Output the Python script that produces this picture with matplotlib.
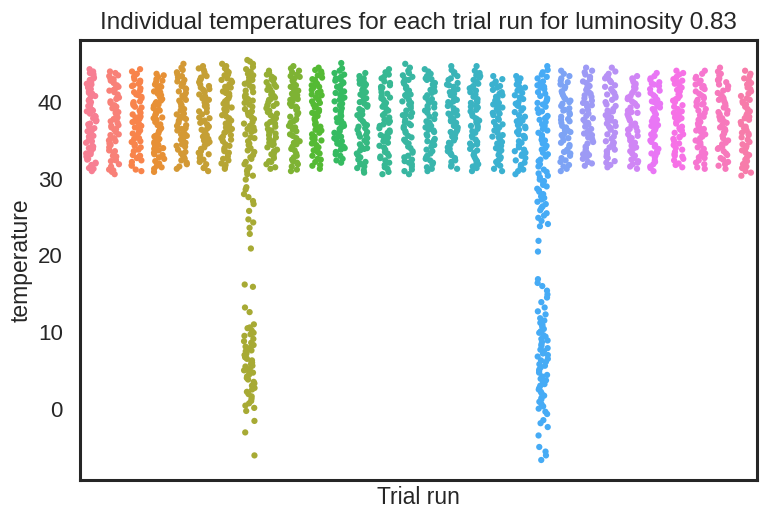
import numpy as np
import pandas as pd
import matplotlib
matplotlib.use("Agg")
import matplotlib.pyplot as plt
import seaborn as sns

# temperatures per trial run (luminosity 0.83)
trial_01 = [31.0, 31.3, 31.4, 31.8, 32.0, 32.1, 32.5, 32.6, 32.9, 33.2, 33.3, 33.5, 33.9, 34.0,
            34.2, 34.3, 34.7, 34.9, 35.0, 35.4, 35.5, 35.6, 36.0, 36.2, 36.3, 36.6, 36.8, 37.1,
            37.2, 37.5, 37.6, 37.9, 38.1, 38.2, 38.5, 38.8, 38.9, 39.0, 39.4, 39.5, 39.7, 40.0,
            40.2, 40.3, 40.7, 40.8, 41.1, 41.2, 41.4, 41.7, 41.9, 42.0, 42.3, 42.4, 42.6, 42.9,
            43.1, 43.2, 43.5, 43.7, 43.8, 44.0, 44.3]
trial_02 = [30.6, 30.9, 31.1, 31.2, 31.6, 31.9, 32.3, 32.4, 32.5, 32.9, 33.4, 33.6, 33.7, 34.1,
            34.4, 34.5, 34.6, 35.1, 35.3, 35.7, 35.8, 36.1, 36.4, 36.5, 36.9, 37.0, 37.3, 37.7,
            37.8, 38.0, 38.3, 38.6, 38.7, 39.1, 39.2, 39.6, 39.9, 40.1, 40.4, 40.5, 40.6, 41.0,
            41.3, 41.5, 41.6, 42.0, 42.2, 42.5, 42.7, 42.8, 43.1, 43.4, 43.5, 43.8, 44.0, 33.0,
            35.0, 37.5, 39.4, 41.8, 43.0, 36.7, 34.9]
trial_03 = [31.0, 31.2, 31.7, 31.8, 32.2, 32.4, 32.7, 33.0, 33.1, 33.6, 33.8, 34.1, 34.3, 34.8,
            34.9, 35.2, 35.3, 35.9, 36.0, 36.3, 36.5, 36.7, 37.2, 37.4, 37.5, 38.0, 38.1, 38.4,
            38.6, 38.9, 39.3, 39.4, 39.8, 40.0, 40.1, 40.5, 40.9, 41.0, 41.3, 41.5, 41.8, 42.1,
            42.2, 42.6, 42.8, 43.0, 43.3, 43.6, 43.7, 44.0, 44.3, 35.6, 37.8, 39.6, 40.7, 32.9,
            34.5, 36.9, 42.4, 38.2]
trial_04 = [30.9, 31.3, 31.5, 31.7, 32.0, 32.3, 32.6, 32.8, 33.1, 33.2, 33.7, 33.9, 34.0, 34.4,
            34.6, 34.8, 35.2, 35.5, 35.6, 35.9, 36.2, 36.4, 36.8, 37.0, 37.1, 37.4, 37.7, 38.0,
            38.3, 38.5, 38.7, 39.0, 39.2, 39.5, 39.7, 39.8, 40.2, 40.4, 40.7, 40.9, 41.1, 41.4,
            41.6, 41.9, 42.1, 42.3, 42.6, 42.8, 43.0, 43.3, 43.5, 43.7, 34.2, 36.6, 38.9, 41.3,
            33.4, 35.0, 37.9, 40.0, 42.0]
trial_05 = [31.3, 31.6, 31.9, 32.1, 32.4, 32.8, 33.0, 33.3, 33.5, 33.8, 34.2, 34.3, 34.7, 34.9,
            35.1, 35.4, 35.8, 35.9, 36.3, 36.5, 36.6, 37.0, 37.3, 37.6, 37.8, 38.1, 38.4, 38.5,
            38.9, 39.1, 39.4, 39.6, 39.9, 40.2, 40.3, 40.6, 40.9, 41.2, 41.4, 41.7, 41.8, 42.1,
            42.4, 42.7, 42.9, 43.2, 43.4, 43.6, 43.9, 44.2, 44.5, 45.0, 32.6, 35.6, 36.9, 39.0,
            40.8, 42.5, 34.5, 38.0]
trial_06 = [31.0, 31.4, 31.5, 31.9, 32.2, 32.5, 32.7, 33.1, 33.4, 33.6, 33.9, 34.1, 34.4, 34.6,
            35.0, 35.2, 35.5, 35.7, 36.0, 36.3, 36.4, 36.8, 37.1, 37.3, 37.6, 37.9, 38.0, 38.4,
            38.7, 38.8, 39.2, 39.5, 39.6, 40.0, 40.3, 40.5, 40.8, 41.0, 41.3, 41.6, 41.7, 42.1,
            42.3, 42.6, 42.9, 43.0, 43.4, 43.6, 43.9, 44.2, 44.4, 44.7, 34.8, 36.6, 39.9, 41.9,
            33.2, 37.5, 40.6, 43.2]
trial_07 = [31.3, 31.5, 31.8, 32.0, 32.4, 32.6, 32.9, 33.3, 33.4, 33.8, 34.0, 34.3, 34.5, 34.9,
            35.1, 35.3, 35.7, 36.0, 36.1, 36.5, 36.7, 37.0, 37.2, 37.6, 37.9, 38.1, 38.3, 38.7,
            38.9, 39.1, 39.5, 39.8, 39.9, 40.3, 40.5, 40.8, 41.1, 41.2, 41.6, 41.9, 42.0, 42.3,
            42.6, 42.8, 43.1, 43.5, 43.6, 43.9, 44.1, 44.4, 44.7, 45.0, 33.6, 35.5, 37.4, 39.3,
            41.4, 42.9, 36.3, 40.1]
trial_08 = [31.5, 31.9, 32.2, 32.6, 32.8, 33.1, 33.5, 33.7, 34.0, 34.4, 34.6, 34.9, 35.3, 35.4,
            35.8, 36.1, 36.3, 36.7, 36.9, 37.2, 37.4, 37.8, 38.0, 38.3, 38.6, 38.8, 39.1, 39.4,
            39.7, 39.9, 40.2, 40.4, 40.8, 41.0, 41.3, 41.5, 41.8, 42.0, 42.4, 42.7, 42.9, 43.2,
            43.5, 43.7, 44.0, 44.3, 44.6, 45.0, 45.3, 45.5, 36.5, 38.5, 40.6, 42.2, 31.0, 31.2]
trial_08_drop = [30.6, 30.4, 29.9, 28.9, 28.6, 28.0, 27.6, 27.1, 26.7, 25.8, 24.7, 24.3, 23.6,
                 22.8, 20.9, 16.2, 15.9, 13.2, 12.6, 11.0, 10.6, 10.5, 10.2, 9.9, 9.7, 9.5, 9.1,
                 8.8, 8.6, 8.3, 8.1, 7.9, 7.6, 7.5, 7.2, 7.0, 6.9, 6.7, 6.5, 6.3, 6.2, 6.0, 5.8,
                 5.6, 5.5, 5.2, 5.0, 4.8, 4.7, 4.4, 4.2, 4.0, 3.8, 3.5, 3.3, 3.0, 2.7, 2.5, 2.2,
                 1.9, 1.6, 1.3, 1.0, 0.7, 0.4, 0.1, -0.3, -1.6, -3.1, -6.1]
trial_09 = [31.3, 31.5, 31.9, 32.2, 32.3, 32.7, 33.0, 33.2, 33.6, 33.8, 34.1, 34.4, 34.5, 34.9,
            35.2, 35.4, 35.7, 35.9, 36.3, 36.5, 36.8, 37.1, 37.2, 37.6, 37.9, 38.1, 38.3, 38.7,
            38.9, 39.2, 39.5, 39.6, 40.0, 40.3, 40.4, 40.8, 41.0, 41.3, 41.6, 41.7, 42.1, 42.3,
            42.6, 42.8, 43.1, 43.3, 43.6, 43.8, 44.1, 34.7, 36.1, 38.5, 40.6, 42.0, 33.4, 37.4,
            39.8, 43.0]
trial_10 = [31.0, 31.2, 31.6, 31.9, 32.1, 32.5, 32.8, 33.0, 33.3, 33.7, 33.9, 34.2, 34.5, 34.7,
            35.0, 35.3, 35.6, 35.8, 36.2, 36.4, 36.7, 37.0, 37.3, 37.5, 37.8, 38.1, 38.4, 38.6,
            39.0, 39.2, 39.5, 39.8, 40.1, 40.3, 40.6, 40.9, 41.1, 41.5, 41.7, 42.0, 42.2, 42.5,
            42.8, 43.1, 43.3, 43.6, 43.9, 44.1, 44.4, 44.7, 32.3, 34.9, 36.9, 39.4, 41.3, 43.4,
            37.7, 40.4]
trial_11 = [31.3, 31.7, 31.8, 32.2, 32.5, 32.6, 33.0, 33.3, 33.5, 33.9, 34.1, 34.4, 34.6, 35.0,
            35.1, 35.5, 35.8, 36.0, 36.3, 36.6, 36.8, 37.1, 37.3, 37.7, 37.9, 38.2, 38.5, 38.6,
            39.0, 39.3, 39.5, 39.7, 40.1, 40.3, 40.6, 40.9, 41.0, 41.4, 41.6, 41.9, 42.2, 42.4,
            42.7, 42.9, 43.2, 43.5, 43.7, 44.0, 44.2, 44.5, 33.7, 36.4, 38.8, 41.2, 43.0, 35.3,
            39.9, 42.0]
trial_12 = [32.1, 32.4, 32.6, 33.0, 33.2, 33.5, 33.8, 34.0, 34.4, 34.6, 34.9, 35.1, 35.5, 35.7,
            36.0, 36.2, 36.5, 36.9, 37.0, 37.4, 37.6, 37.9, 38.2, 38.4, 38.7, 39.0, 39.2, 39.6,
            39.8, 40.1, 40.4, 40.6, 40.9, 41.2, 41.4, 41.7, 42.0, 42.2, 42.5, 42.8, 43.0, 43.3,
            43.6, 43.8, 44.1, 44.4, 45.1, 34.2, 36.7, 38.9, 41.0, 43.1, 37.2, 40.3, 35.3, 42.6]
trial_13 = [30.8, 31.1, 31.4, 31.6, 32.0, 32.2, 32.5, 32.8, 33.1, 33.3, 33.7, 33.9, 34.2, 34.5,
            34.7, 35.0, 35.3, 35.5, 35.9, 36.1, 36.4, 36.6, 37.0, 37.2, 37.5, 37.8, 38.0, 38.3,
            38.6, 38.9, 39.1, 39.4, 39.6, 40.0, 40.2, 40.5, 40.8, 41.0, 41.3, 41.6, 41.8, 42.1,
            42.4, 42.6, 42.9, 43.1, 43.4, 43.8, 31.9, 34.0, 36.8, 39.8, 42.3, 35.7, 38.4, 41.5]
trial_14 = [30.6, 30.9, 31.3, 31.5, 31.8, 32.1, 32.4, 32.7, 32.9, 33.3, 33.5, 33.8, 34.1, 34.3,
            34.7, 34.9, 35.2, 35.5, 35.7, 36.1, 36.3, 36.6, 36.9, 37.1, 37.5, 37.7, 38.0, 38.3,
            38.5, 38.9, 39.1, 39.4, 39.7, 39.9, 40.3, 40.5, 40.8, 41.1, 41.3, 41.7, 41.9, 42.2,
            42.5, 42.7, 43.1, 43.3, 43.6, 43.9, 44.3, 33.0, 35.4, 37.3, 39.6, 42.0, 36.0, 40.6]
trial_15 = [30.6, 31.0, 31.2, 31.6, 31.9, 32.1, 32.5, 32.8, 33.0, 33.4, 33.6, 34.0, 34.2, 34.6,
            34.8, 35.1, 35.4, 35.6, 36.0, 36.2, 36.6, 36.8, 37.2, 37.4, 37.7, 38.1, 38.3, 38.6,
            38.9, 39.2, 39.5, 39.7, 40.1, 40.3, 40.7, 40.9, 41.2, 41.5, 41.8, 42.0, 42.4, 42.6,
            42.9, 43.3, 43.5, 43.8, 44.1, 44.5, 45.0, 32.3, 35.0, 37.0, 39.9, 41.0, 43.0, 38.4]
trial_16 = [31.0, 31.3, 31.5, 31.9, 32.1, 32.4, 32.8, 33.0, 33.3, 33.6, 33.8, 34.2, 34.4, 34.7,
            35.0, 35.2, 35.6, 35.8, 36.1, 36.4, 36.7, 36.9, 37.3, 37.5, 37.8, 38.1, 38.4, 38.6,
            38.9, 39.3, 39.5, 39.8, 40.0, 40.4, 40.6, 40.9, 41.2, 41.4, 41.8, 42.0, 42.3, 42.5,
            42.9, 43.1, 43.4, 43.7, 44.0, 44.3, 32.6, 34.9, 37.0, 39.1, 41.6, 43.0, 36.3, 40.2]
trial_17 = [31.3, 31.6, 31.8, 32.2, 32.4, 32.7, 33.1, 33.3, 33.6, 33.9, 34.1, 34.5, 34.7, 35.0,
            35.3, 35.5, 35.9, 36.1, 36.4, 36.7, 36.9, 37.3, 37.5, 37.8, 38.1, 38.3, 38.7, 38.9,
            39.2, 39.5, 39.7, 40.1, 40.3, 40.6, 40.9, 41.1, 41.5, 41.7, 42.0, 42.3, 42.5, 42.9,
            43.1, 43.4, 43.7, 43.9, 44.2, 44.7, 33.4, 35.8, 37.6, 40.0, 42.2, 38.5, 36.2, 41.3]
trial_18 = [31.0, 31.4, 31.6, 31.9, 32.3, 32.5, 32.8, 33.1, 33.4, 33.7, 33.9, 34.3, 34.5, 34.8,
            35.1, 35.4, 35.6, 36.0, 36.2, 36.5, 36.8, 37.1, 37.4, 37.6, 37.9, 38.2, 38.5, 38.8,
            39.0, 39.3, 39.6, 39.9, 40.2, 40.4, 40.7, 41.0, 41.3, 41.5, 41.8, 42.1, 42.4, 42.7,
            42.9, 43.2, 43.5, 43.8, 44.1, 44.7, 32.0, 34.6, 36.9, 39.4, 41.9, 43.4, 37.8, 40.0]
trial_19 = [31.0, 31.3, 31.7, 31.9, 32.2, 32.6, 32.8, 33.1, 33.5, 33.7, 34.0, 34.3, 34.6, 34.8,
            35.2, 35.4, 35.7, 36.0, 36.3, 36.5, 36.9, 37.1, 37.4, 37.7, 37.9, 38.3, 38.5, 38.8,
            39.1, 39.3, 39.7, 39.9, 40.2, 40.5, 40.7, 41.1, 41.3, 41.6, 41.9, 42.1, 42.5, 42.7,
            43.0, 43.4, 32.4, 34.4, 36.7, 38.6, 40.9, 42.3, 35.5, 39.5]
trial_20 = [30.6, 31.0, 31.2, 31.5, 31.8, 32.1, 32.4, 32.7, 33.0, 33.2, 33.6, 33.8, 34.1, 34.4,
            34.7, 34.9, 35.3, 35.5, 35.8, 36.1, 36.4, 36.6, 37.0, 37.2, 37.5, 37.8, 38.1, 38.3,
            38.7, 38.9, 39.2, 39.5, 39.8, 40.0, 40.4, 40.6, 40.9, 41.2, 41.5, 41.7, 42.0, 42.3,
            42.6, 42.9, 43.1, 43.4, 33.4, 35.6, 37.6, 39.6, 41.9, 36.8]
trial_21 = [31.6, 31.9, 32.3, 32.5, 32.9, 33.2, 33.4, 33.8, 34.0, 34.3, 34.6, 34.9, 35.1, 35.5,
            35.7, 36.0, 36.3, 36.5, 36.9, 37.1, 37.4, 37.7, 38.0, 38.2, 38.6, 38.8, 39.1, 39.4,
            39.7, 39.9, 40.3, 40.5, 40.8, 41.1, 41.3, 41.7, 41.9, 42.2, 42.5, 42.7, 43.1, 43.3,
            43.6, 43.9, 44.2, 44.7, 35.0, 37.9, 40.1, 42.0]
trial_21_drop = [31.2, 30.9, 30.7, 30.4, 30.2, 29.9, 29.7, 29.5, 29.2, 29.0, 28.7, 28.5, 28.3,
                 28.0, 27.7, 27.5, 27.3, 27.0, 26.7, 26.4, 26.2, 25.9, 25.5, 25.2, 24.9, 24.5,
                 24.1, 23.8, 21.9, 20.5, 16.9, 16.4, 16.0, 15.4, 14.9, 14.5, 13.9, 13.2, 12.7,
                 12.3, 11.8, 11.5, 11.2, 10.9, 10.7, 10.4, 10.1, 9.9, 9.6, 9.4, 9.1, 8.9, 8.7,
                 8.4, 8.2, 7.9, 7.7, 7.5, 7.2, 7.0, 6.8, 6.5, 6.3, 6.1, 5.8, 5.6, 5.4, 5.1, 4.9,
                 4.7, 4.4, 4.2, 3.9, 3.7, 3.5, 3.2, 3.0, 2.7, 2.5, 2.2, 2.0, 1.7, 1.4, 1.2, 0.9,
                 0.6, 0.3, 0.0, -0.4, -0.7, -1.5, -1.9, -2.4, -3.5, -5.0, -5.6, -6.1, -6.7]
trial_22 = [31.0, 31.3, 31.6, 31.8, 32.2, 32.4, 32.7, 33.0, 33.3, 33.6, 33.8, 34.2, 34.4, 34.7,
            35.0, 35.3, 35.5, 35.9, 36.1, 36.4, 36.7, 36.9, 37.3, 37.5, 37.8, 38.1, 38.4, 38.6,
            38.9, 39.2, 39.5, 39.8, 40.0, 40.4, 40.6, 40.9, 41.2, 41.4, 41.8, 42.0, 42.3, 42.6,
            42.8, 43.1, 43.4, 43.7, 44.1, 33.5, 35.7, 37.7, 40.2, 42.4, 36.3, 39.0]
trial_23 = [31.7, 32.0, 32.2, 32.6, 32.8, 33.1, 33.4, 33.7, 34.0, 34.2, 34.6, 34.8, 35.1, 35.4,
            35.7, 35.9, 36.3, 36.5, 36.8, 37.1, 37.3, 37.7, 37.9, 38.2, 38.5, 38.8, 39.0, 39.4,
            39.6, 39.9, 40.2, 40.5, 40.7, 41.1, 41.3, 41.6, 41.9, 42.1, 42.5, 42.7, 43.0, 43.3,
            43.6, 43.9, 44.1, 44.5, 33.2, 35.3, 37.5, 39.8, 42.2, 36.1, 40.9]
trial_24 = [31.5, 31.8, 32.1, 32.3, 32.7, 32.9, 33.2, 33.5, 33.8, 34.1, 34.3, 34.7, 34.9, 35.2,
            35.5, 35.8, 36.0, 36.4, 36.6, 36.9, 37.2, 37.4, 37.8, 38.0, 38.3, 38.6, 38.9, 39.1,
            39.5, 39.7, 40.0, 40.3, 40.6, 40.8, 41.2, 41.4, 41.7, 42.0, 42.2, 42.6, 42.8, 43.1,
            43.4, 43.7, 44.0, 44.5, 34.5, 36.8, 38.8, 41.0, 43.2, 37.6, 33.6]
trial_25 = [31.3, 31.6, 31.9, 32.1, 32.5, 32.7, 33.0, 33.3, 33.6, 33.9, 34.1, 34.5, 34.7, 35.0,
            35.3, 35.6, 35.8, 36.2, 36.4, 36.7, 37.0, 37.2, 37.6, 37.8, 38.1, 38.4, 38.7, 38.9,
            39.3, 39.5, 39.8, 40.1, 40.4, 40.6, 41.0, 41.2, 41.5, 41.8, 42.0, 42.4, 42.6, 42.9,
            43.1, 43.4, 32.3, 34.3, 36.5, 38.6, 40.8, 42.2, 35.4, 39.9]
trial_26 = [31.0, 31.4, 31.6, 31.9, 32.2, 32.4, 32.8, 33.0, 33.3, 33.6, 33.9, 34.2, 34.4, 34.8,
            35.0, 35.3, 35.6, 35.8, 36.2, 36.4, 36.7, 37.0, 37.3, 37.5, 37.9, 38.1, 38.4, 38.7,
            38.9, 39.3, 39.5, 39.8, 40.1, 40.3, 40.7, 40.9, 41.2, 41.5, 41.7, 42.1, 42.3, 42.6,
            42.9, 43.1, 43.4, 43.8, 33.4, 35.7, 37.7, 40.0, 42.4, 36.9, 39.1]
trial_27 = [31.5, 31.8, 32.0, 32.4, 32.6, 32.9, 33.2, 33.5, 33.8, 34.0, 34.4, 34.6, 34.9, 35.2,
            35.4, 35.8, 36.0, 36.3, 36.6, 36.8, 37.2, 37.4, 37.7, 38.0, 38.2, 38.6, 38.8, 39.1,
            39.4, 39.6, 40.0, 40.2, 40.5, 40.8, 41.0, 41.4, 41.6, 41.9, 42.2, 42.4, 42.8, 43.0,
            43.3, 43.6, 43.8, 44.1, 33.0, 35.5, 37.9, 40.4, 42.6, 36.4, 38.4]
trial_28 = [31.3, 31.5, 31.9, 32.1, 32.4, 32.7, 33.0, 33.3, 33.5, 33.9, 34.1, 34.4, 34.7, 34.9,
            35.3, 35.5, 35.8, 36.1, 36.3, 36.7, 36.9, 37.2, 37.5, 37.7, 38.1, 38.3, 38.6, 38.9,
            39.1, 39.5, 39.7, 40.0, 40.3, 40.5, 40.9, 41.1, 41.4, 41.7, 41.9, 42.3, 42.5, 42.8,
            43.1, 43.3, 43.7, 44.1, 32.8, 35.0, 37.4, 39.8, 42.1, 36.5, 40.7]
trial_29 = [31.3, 31.7, 31.9, 32.2, 32.5, 32.7, 33.1, 33.3, 33.6, 33.9, 34.2, 34.5, 34.7, 35.0,
            35.3, 35.6, 35.9, 36.1, 36.5, 36.7, 37.0, 37.3, 37.5, 37.9, 38.1, 38.4, 38.7, 38.9,
            39.3, 39.5, 39.8, 40.1, 40.3, 40.7, 40.9, 41.2, 41.5, 41.7, 42.1, 42.3, 42.6, 42.9,
            43.1, 43.5, 43.7, 44.0, 44.5, 34.0, 36.3, 38.5, 40.5, 42.8, 37.7]
trial_30 = [30.4, 30.8, 31.0, 31.4, 31.6, 31.9, 32.3, 32.5, 32.8, 33.1, 33.4, 33.7, 33.9, 34.3,
            34.5, 34.8, 35.1, 35.4, 35.7, 35.9, 36.3, 36.5, 36.8, 37.1, 37.4, 37.7, 37.9, 38.3,
            38.5, 38.8, 39.1, 39.4, 39.7, 39.9, 40.3, 40.5, 40.8, 41.1, 41.4, 41.7, 41.9, 42.3,
            42.5, 42.8, 43.1, 43.4, 43.7, 44.1, 32.0, 34.1, 36.0, 38.1, 40.1, 42.0, 36.6]

runs = [trial_01, trial_02, trial_03, trial_04, trial_05, trial_06, trial_07,
        trial_08 + trial_08_drop, trial_09, trial_10, trial_11, trial_12, trial_13,
        trial_14, trial_15, trial_16, trial_17, trial_18, trial_19, trial_20,
        trial_21 + trial_21_drop, trial_22, trial_23, trial_24, trial_25, trial_26,
        trial_27, trial_28, trial_29, trial_30]
trial_ids = list(range(1, 31))

rows = []
for t, vals in zip(trial_ids, runs):
    for v in vals:
        rows.append((t, v))
df = pd.DataFrame(rows, columns=["trial", "temperature"])

sns.set_theme(style="white", context="talk")
plt.rcParams['font.family'] = ['Liberation Sans', 'DejaVu Sans']

np.random.seed(3)
fig = plt.figure(figsize=(7.67, 5.14), dpi=100)
ax = fig.add_axes([80/767, 34/514, 677/767, 440/514])
sns.stripplot(data=df, x="trial", y="temperature", hue="trial",
              palette=sns.husl_palette(30, s=.9, l=.68), legend=False,
              jitter=0.24, size=4.5, linewidth=0, ax=ax)

ax.set_xticks([])
ax.set_xlabel("Trial run", fontsize=16.5)
ax.set_ylabel("temperature", fontsize=16.5)
ax.set_yticks([0, 10, 20, 30, 40])
ax.tick_params(axis='y', labelsize=16)
ax.set_title("Individual temperatures for each trial run for luminosity 0.83",
             fontsize=17.5, pad=8)
for s in ax.spines.values():
    s.set_linewidth(2.2)
    s.set_color('#262626')

fig.savefig("out.png", dpi=100)
